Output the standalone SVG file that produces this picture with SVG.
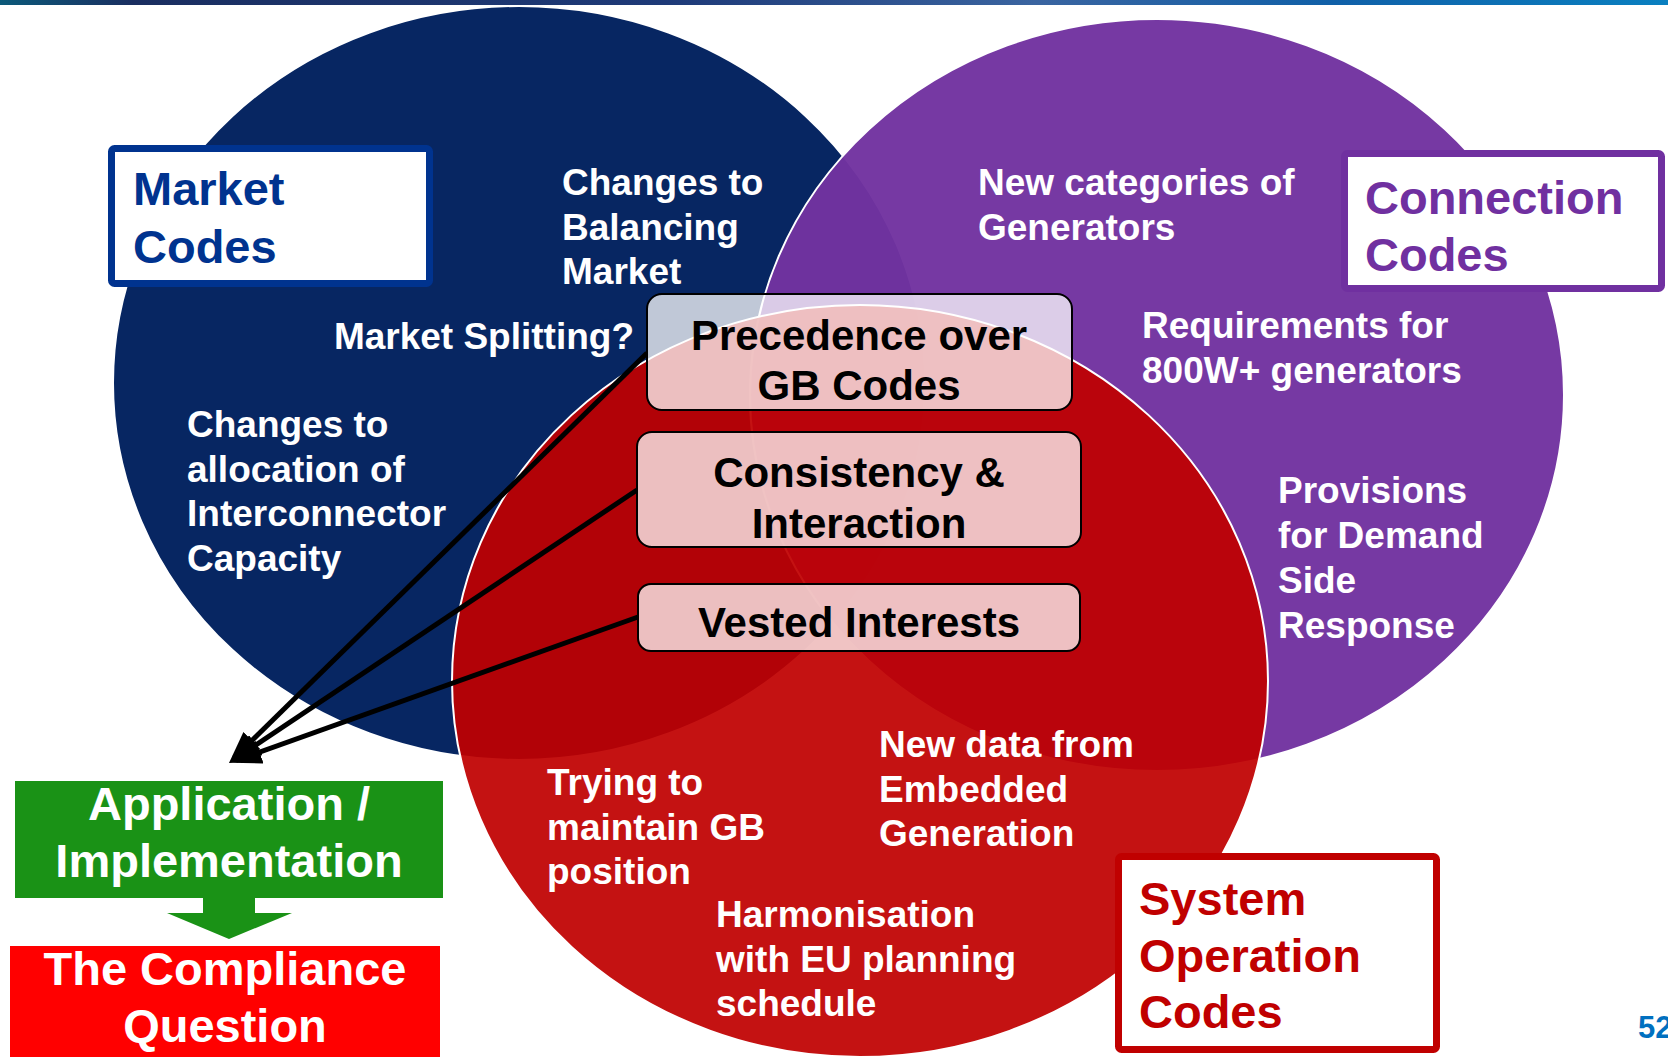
<svg xmlns="http://www.w3.org/2000/svg" width="1668" height="1057" viewBox="0 0 1668 1057">
<defs>
<linearGradient id="banner" x1="0" x2="1" y1="0" y2="0">
<stop offset="0" stop-color="#0C5A7A"/>
<stop offset="0.08" stop-color="#1A2E60"/>
<stop offset="0.4" stop-color="#1E3A78"/>
<stop offset="0.62" stop-color="#3A64A0"/>
<stop offset="0.8" stop-color="#1060A8"/>
<stop offset="1" stop-color="#0A80C0"/>
</linearGradient>
<marker id="ah" markerUnits="userSpaceOnUse" markerWidth="32" markerHeight="24" refX="25" refY="12" orient="auto">
<path d="M0,0 L32,12 L0,24 z" fill="#000"/>
</marker>
</defs>
<style>
text{font-family:"Liberation Sans",Arial,sans-serif;font-weight:bold}
.w{fill:#fff;font-size:37px}
.bx{fill:#000;font-size:42px;text-anchor:middle}
.lbl{font-size:47px}
.pill{fill:#fff;fill-opacity:0.75;stroke:#000;stroke-width:2}
.conn{stroke:#000;stroke-width:5;fill:none;marker-end:url(#ah)}
.circ{stroke:#fff;stroke-width:2}
</style>
<rect width="1668" height="1057" fill="#fff"/>
<rect x="0" y="0" width="1668" height="5" fill="url(#banner)"/>

<g id="market-circle">
<ellipse class="circ" cx="519" cy="383" rx="406" ry="377" fill="#072662"/>
</g>
<g id="connection-circle">
<ellipse class="circ" cx="1157" cy="395" rx="407" ry="376" fill="#7233A0" fill-opacity="0.97"/>
</g>
<g id="system-circle">
<ellipse class="circ" cx="860" cy="681" rx="408" ry="376" fill="#BF0000" fill-opacity="0.93"/>
</g>

<g id="market-texts">
<text class="w" x="562" y="195">Changes to<tspan x="562" dy="45">Balancing</tspan><tspan x="562" dy="44">Market</tspan></text>
<text class="w" x="634" y="349" text-anchor="end">Market Splitting?</text>
<text class="w" x="187" y="437">Changes to<tspan x="187" dy="44.5">allocation of</tspan><tspan x="187" dy="44.5">Interconnector</tspan><tspan x="187" dy="44.5">Capacity</tspan></text>
</g>
<g id="connection-texts">
<text class="w" x="978" y="195">New categories of<tspan x="978" dy="45">Generators</tspan></text>
<text class="w" x="1142" y="338">Requirements for<tspan x="1142" dy="45">800W+ generators</tspan></text>
<text class="w" x="1278" y="503">Provisions<tspan x="1278" dy="45">for Demand</tspan><tspan x="1278" dy="45">Side</tspan><tspan x="1278" dy="45">Response</tspan></text>
</g>
<g id="system-texts">
<text class="w" x="879" y="757">New data from<tspan x="879" dy="44.5">Embedded</tspan><tspan x="879" dy="44.5">Generation</tspan></text>
<text class="w" x="547" y="795">Trying to<tspan x="547" dy="44.5">maintain GB</tspan><tspan x="547" dy="44.5">position</tspan></text>
<text class="w" x="716" y="927">Harmonisation<tspan x="716" dy="44.5">with EU planning</tspan><tspan x="716" dy="44">schedule</tspan></text>
</g>

<g id="connectors">
<line class="conn" x1="647" y1="353" x2="234" y2="758"/>
<line class="conn" x1="637" y1="490" x2="235" y2="759"/>
<line class="conn" x1="638" y1="617" x2="236" y2="760.5"/>
</g>

<g id="precedence">
<rect class="pill" x="647" y="294" width="425" height="116" rx="15"/>
<text class="bx" x="859" y="350">Precedence over<tspan x="859" dy="50">GB Codes</tspan></text>
</g>
<g id="consistency">
<rect class="pill" x="637" y="432" width="444" height="115" rx="15"/>
<text class="bx" x="859" y="487">Consistency &amp;<tspan x="859" dy="51">Interaction</tspan></text>
</g>
<g id="vested">
<rect class="pill" x="638" y="584" width="442" height="67" rx="13"/>
<text class="bx" x="859" y="637">Vested Interests</text>
</g>

<g id="market-label">
<rect x="111.5" y="148.5" width="318" height="135" rx="3" fill="#fff" stroke="#00338F" stroke-width="7"/>
<text class="lbl" x="133" y="205" fill="#00338F">Market<tspan x="133" dy="58">Codes</tspan></text>
</g>
<g id="connection-label">
<rect x="1344.5" y="153.5" width="317" height="135" rx="3" fill="#fff" stroke="#7030A0" stroke-width="7"/>
<text class="lbl" x="1365" y="214" fill="#7030A0">Connection<tspan x="1365" dy="57">Codes</tspan></text>
</g>
<g id="system-label">
<rect x="1118.5" y="856.5" width="318" height="193" rx="3" fill="#fff" stroke="#C00000" stroke-width="7"/>
<text class="lbl" x="1139" y="915" fill="#C00000">System<tspan x="1139" dy="57">Operation</tspan><tspan x="1139" dy="56">Codes</tspan></text>
</g>

<g id="application">
<rect x="15" y="781" width="428" height="117" fill="#1A9216"/>
<text class="lbl" x="229" y="820" fill="#fff" text-anchor="middle">Application /<tspan x="229" dy="57">Implementation</tspan></text>
</g>
<g id="down-arrow">
<polygon points="203,897 255,897 255,913 292,913 229,939 167,913 203,913" fill="#1A9216"/>
</g>
<g id="compliance">
<rect x="10" y="946" width="430" height="111" fill="#FF0000"/>
<text class="lbl" x="225" y="985" fill="#fff" text-anchor="middle">The Compliance<tspan x="225" dy="57">Question</tspan></text>
</g>
<text x="1638" y="1038" font-size="31" fill="#0070C0">52</text>
</svg>
